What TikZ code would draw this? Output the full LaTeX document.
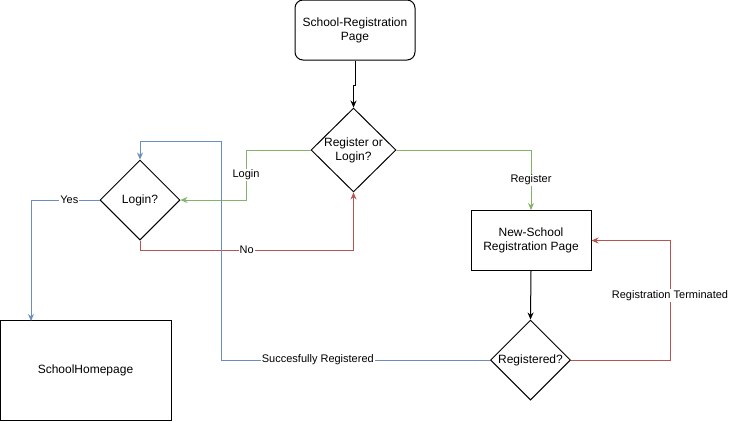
\documentclass[tikz,border=0pt]{standalone}
\usepackage{fontspec}
\setmainfont{Liberation Sans}
\usetikzlibrary{shapes.geometric,arrows.meta}
\definecolor{lgreen}{HTML}{82B366}
\definecolor{lred}{HTML}{B85450}
\definecolor{lblue}{HTML}{6C8EBF}
\begin{document}
\begin{tikzpicture}[x=1pt, y=-1pt, line width=1pt, >={Stealth[length=7pt,width=6pt]},
		every node/.style={font=\fontsize{12}{14}\selectfont},
		box/.style={draw, minimum width=120pt, minimum height=60pt, align=center, inner sep=0pt},
		decision/.style={draw, diamond, minimum width=80pt, minimum height=80pt, align=center, inner sep=0pt},
		lbl/.style={fill=white, inner sep=1pt, font=\fontsize{11}{13}\selectfont}]
	\useasboundingbox (0,0) rectangle (729,421);
	
	% === 节点 ===
	\node[box, rounded corners=8pt] (start) at (355,30) {School-Registration\\Page};
	\node[decision, minimum width=85pt] (choice) at (353.5,150) {Register or\\Login?};
	\node[decision] (login) at (140,200) {Login?};
	\node[box] (newreg) at (531,240.5) {New-School\\Registration Page};
	\node[decision] (registered) at (530.5,360) {Registered?};
	\node[box, minimum width=171pt, minimum height=100pt] (home) at (85.5,370.5) {SchoolHomepage};
	
	% === 连线 ===
	\draw[->] (start.south) -- ++(0,25) -| (choice.north);
	\draw[->, lgreen] (choice.west) -- (246,150) -- node[lbl, text=black] {Login} (246,200) -- (login.east);
	\draw[->, lgreen] (choice.east) -- (531,150) -- node[lbl, text=black] {Register} (newreg.north);
	\draw[->, lred] (login.south) -- (140,250) -- node[lbl, text=black] {No} (353.5,250) -- (choice.south);
	\draw[->, lblue] (login.west) -- node[lbl, text=black, pos=0.44] {Yes} (31,200) -- (31,321);
	\draw[->] (newreg.south) -- (registered.north);
	\draw[->, lblue] (registered.west) -- node[lbl, text=black, pos=0.64] {Succesfully Registered} (221,360) -- (221,141) -- (140,141) -- (login.north);
	\draw[->, lred] (registered.east) -- (670,360) -- node[lbl, text=black, pos=0.54] {Registration Terminated} (670,240.5) -- (newreg.east);
\end{tikzpicture}
\end{document}
